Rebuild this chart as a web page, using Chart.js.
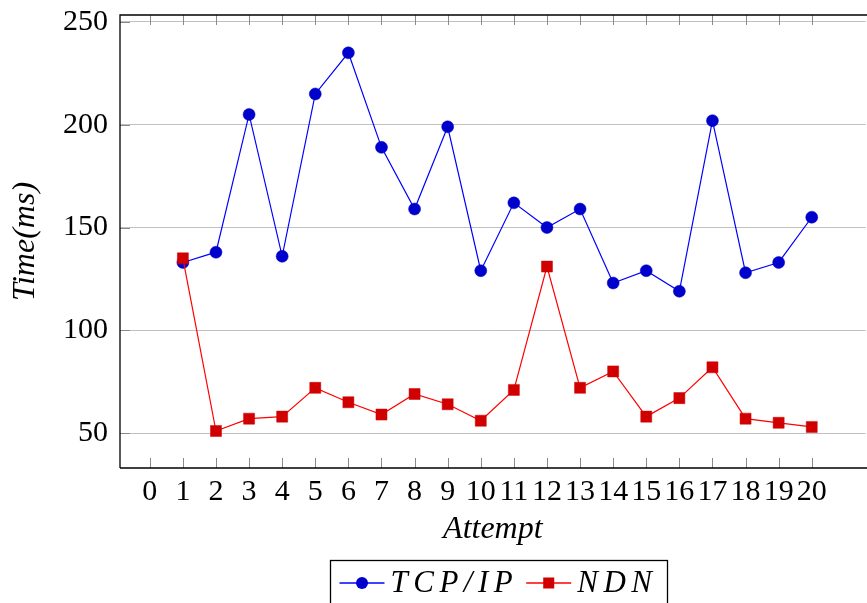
<!DOCTYPE html>
<html><head><meta charset="utf-8">
<script src="https://cdn.jsdelivr.net/npm/chart.js@4/dist/chart.umd.min.js"></script>
<style>html,body{margin:0;padding:0;background:#fff;overflow:hidden}#wrap{width:867px;height:603px;position:relative;overflow:hidden}</style>
</head><body><div id="wrap"><canvas id="c" width="874" height="603"></canvas></div>
<script>
const attempts = [1,2,3,4,5,6,7,8,9,10,11,12,13,14,15,16,17,18,19,20];
const tcpIp = [133,138,205,136,215,235,189,159,199,129,162,150,159,123,129,119,202,128,133,155];
const ndn   = [135,51,57,58,72,65,59,69,64,56,71,131,72,80,58,67,82,57,55,53];
const xTickValues = [0,1,2,3,4,5,6,7,8,9,10,11,12,13,14,15,16,17,18,19,20];
const yTickValues = [50,100,150,200,250];
const seriesLabels = ['TCP/IP','NDN'];
const xTitle = 'Attempt';
const yTitle = 'Time(ms)';

const FONT = "'Liberation Serif', 'Times New Roman', serif";
const TICK_COLOR = '#8a8a8a';

const framePlugin = {
  id: 'frame',
  beforeDatasetsDraw(chart) {
    const {ctx, chartArea: a, scales: {x, y}} = chart;
    ctx.save();
    ctx.strokeStyle = TICK_COLOR;
    ctx.lineWidth = 1;
    ctx.beginPath();
    xTickValues.forEach(v => {
      const px = Math.round(x.getPixelForValue(v)) + 0.5;
      ctx.moveTo(px, a.bottom); ctx.lineTo(px, a.bottom - 10);
      ctx.moveTo(px, a.top); ctx.lineTo(px, a.top + 10);
    });
    yTickValues.forEach(v => {
      const py = Math.round(y.getPixelForValue(v)) + 0.5;
      ctx.moveTo(a.left, py); ctx.lineTo(a.left + 10, py);
    });
    ctx.stroke();
    ctx.restore();
  },
  afterDraw(chart) {
    const {ctx, chartArea: a} = chart;
    ctx.save();
    ctx.strokeStyle = '#000';
    ctx.lineWidth = 1.3;
    ctx.beginPath();
    ctx.moveTo(a.left, a.bottom); ctx.lineTo(a.left, a.top); ctx.lineTo(a.right + 10, a.top);
    ctx.moveTo(a.left, a.bottom); ctx.lineTo(a.right + 10, a.bottom);
    ctx.stroke();

    // legend
    const ds = chart.data.datasets;
    ctx.font = "italic 31px " + FONT;
    ctx.letterSpacing = '5.5px';
    const widths = ds.map(d => ctx.measureText(d.label).width);
    const lineLen = 45, padL = 9, gapT = 6, gapItem = 8, padR = 10;
    let total = padL;
    ds.forEach((d, i) => { total += lineLen + gapT + widths[i] + (i < ds.length - 1 ? gapItem : 0); });
    total += padR;
    const cx = 498, top = 560, cy = 583;
    const left = Math.round(cx - total / 2) + 0.5;
    ctx.strokeStyle = '#000';
    ctx.lineWidth = 1.3;
    ctx.strokeRect(left, top + 0.5, Math.round(total), 80);
    let xp = left + padL;
    ds.forEach((d, i) => {
      ctx.strokeStyle = d.borderColor;
      ctx.lineWidth = 1.3;
      ctx.beginPath(); ctx.moveTo(xp, cy); ctx.lineTo(xp + lineLen, cy); ctx.stroke();
      const mx = xp + lineLen / 2;
      ctx.fillStyle = d.pointBackgroundColor;
      if (d.pointStyle === 'rect') {
        ctx.fillRect(mx - 5.5, cy - 5.5, 11, 11);
      } else {
        ctx.beginPath(); ctx.arc(mx, cy, 6, 0, Math.PI * 2); ctx.fill();
      }
      xp += lineLen + gapT;
      ctx.fillStyle = '#000';
      ctx.textBaseline = 'middle';
      ctx.textAlign = 'left';
      ctx.fillText(d.label, xp, cy + 1);
      xp += widths[i] + gapItem;
    });
    ctx.restore();
  }
};

new Chart(document.getElementById('c'), {
  type: 'line',
  data: {
    datasets: [
      {
        label: seriesLabels[0],
        data: attempts.map((a, i) => ({x: a, y: tcpIp[i]})),
        borderColor: '#0000ff', borderWidth: 1.2,
        pointStyle: 'circle', pointRadius: 6, pointHoverRadius: 6,
        pointBackgroundColor: '#0000cc', pointBorderColor: '#0000cc', pointBorderWidth: 0.5,
        tension: 0, fill: false, order: 2
      },
      {
        label: seriesLabels[1],
        data: attempts.map((a, i) => ({x: a, y: ndn[i]})),
        borderColor: '#ff0000', borderWidth: 1.2,
        pointStyle: 'rect', pointRadius: 7.8, pointHoverRadius: 7.8,
        pointBackgroundColor: '#d00000', pointBorderColor: '#d00000', pointBorderWidth: 0.5,
        tension: 0, fill: false, order: 1
      }
    ]
  },
  options: {
    responsive: false,
    animation: false,
    devicePixelRatio: 1,
    layout: {padding: {top: 15, right: 0, bottom: 43, left: 0}},
    plugins: {legend: {display: false}, tooltip: {enabled: false}},
    scales: {
      x: {
        type: 'linear', min: -0.9, max: 21.63,
        afterBuildTicks: s => { s.ticks = xTickValues.map(v => ({value: v})); },
        afterFit: s => { s.height = 92; s.paddingLeft = 0; s.paddingRight = 0; },
        grid: {display: false, drawTicks: false},
        border: {display: false},
        ticks: {autoSkip: false, maxRotation: 0, minRotation: 0, padding: 6, color: '#000',
                font: {family: FONT, size: 30}, callback: v => String(v)},
        title: {display: true, text: xTitle, color: '#000', padding: {top: 0, bottom: 11},
                font: {family: FONT, size: 32, style: 'italic'}}
      },
      y: {
        type: 'linear', min: 33, max: 253.4,
        afterBuildTicks: s => { s.ticks = yTickValues.map(v => ({value: v})); },
        afterFit: s => { s.width = 120; s.paddingTop = 0; s.paddingBottom = 0; },
        grid: {color: '#c0c0c0', lineWidth: 1, drawTicks: false},
        border: {display: false},
        ticks: {padding: 12, color: '#000', font: {family: FONT, size: 30}, callback: v => String(v)},
        title: {display: true, text: yTitle, color: '#000', padding: {top: 6, bottom: 0},
                font: {family: FONT, size: 32, style: 'italic'}}
      }
    }
  },
  plugins: [framePlugin]
});
</script>
</body></html>
